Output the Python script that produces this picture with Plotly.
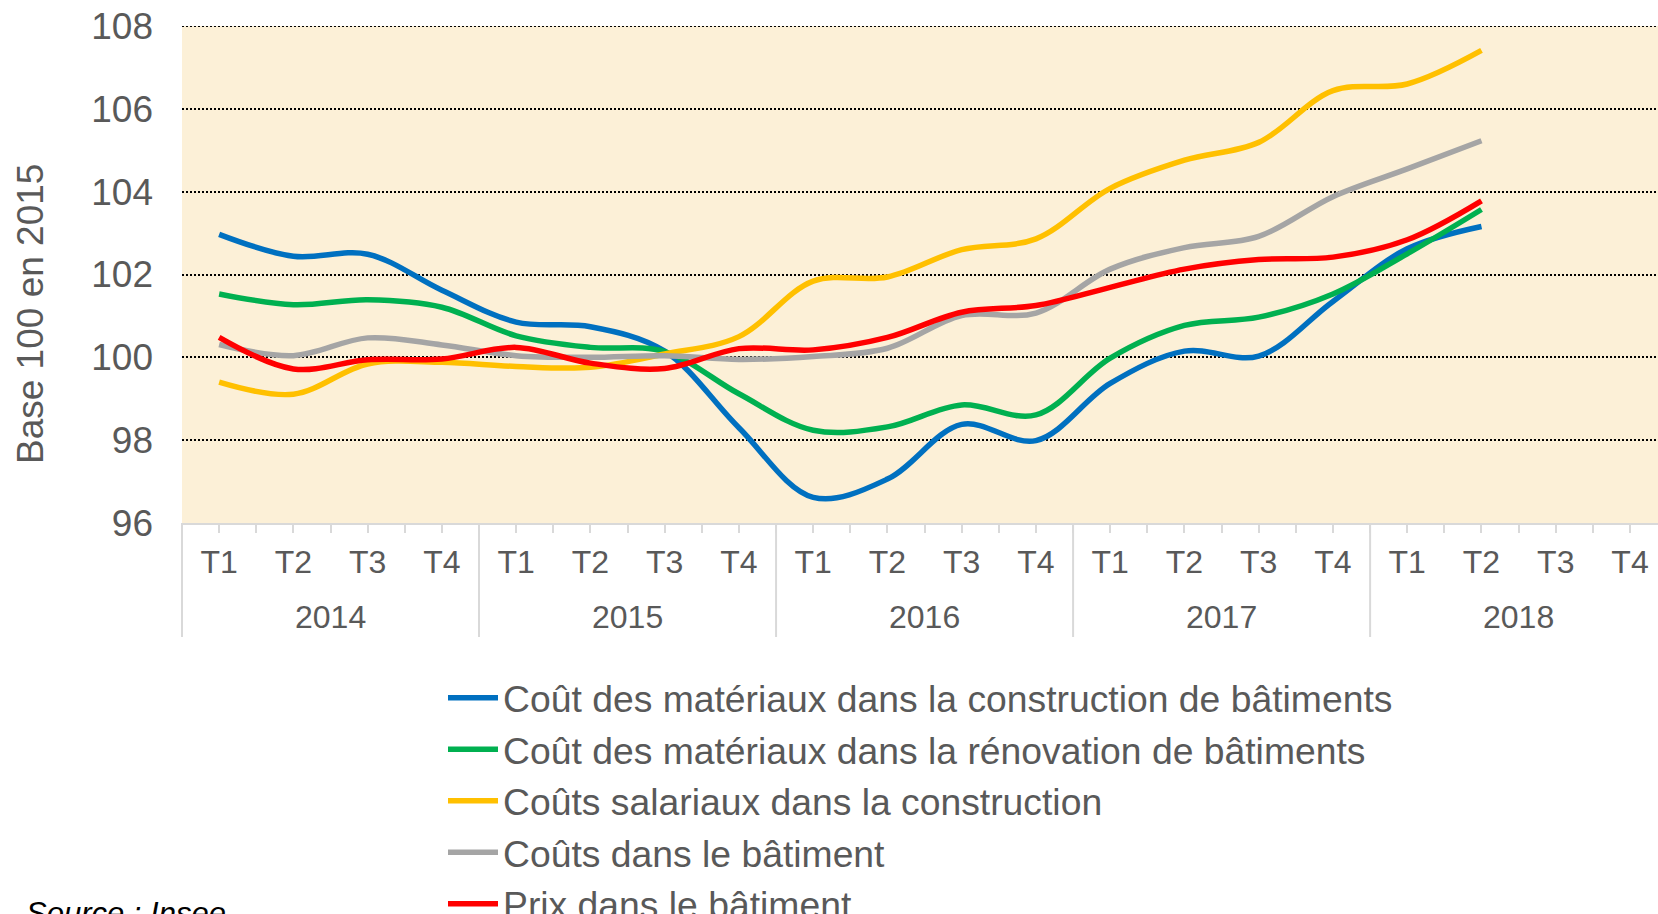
import plotly.graph_objects as go

# ---------------- data ----------------
quarter_labels = ["T1", "T2", "T3", "T4"] * 5
year_labels = ["2014", "2015", "2016", "2017", "2018"]
series_names = [
    "Coût des matériaux dans la construction de bâtiments",
    "Coût des matériaux dans la rénovation de bâtiments",
    "Coûts salariaux dans la construction",
    "Coûts dans le bâtiment",
    "Prix dans le bâtiment",
]
materiaux_construction = [102.97, 102.44, 102.49, 101.62, 100.85, 100.74, 100.15, 98.30, 96.62,
                          97.06, 98.38, 97.99, 99.37, 100.15, 100.03, 101.35, 102.62, 103.16]
materiaux_renovation = [101.53, 101.27, 101.39, 101.21, 100.52, 100.24, 100.14, 99.12, 98.24,
                        98.32, 98.85, 98.61, 99.98, 100.77, 100.97, 101.53, 102.50, 103.57]
couts_salariaux = [99.40, 99.11, 99.84, 99.88, 99.78, 99.76, 100.08, 100.50, 101.84,
                   101.94, 102.60, 102.86, 104.08, 104.76, 105.19, 106.44, 106.60, 107.41]
couts_batiment = [100.31, 100.04, 100.47, 100.30, 100.04, 100.00, 100.04, 99.95, 100.02,
                  100.22, 101.01, 101.07, 102.13, 102.65, 102.92, 103.88, 104.55, 105.23]
prix_batiment = [100.48, 99.72, 99.94, 99.96, 100.24, 99.86, 99.73, 100.21, 100.18,
                 100.48, 101.09, 101.25, 101.69, 102.13, 102.36, 102.42, 102.84, 103.78]
y_ticks = [96, 98, 100, 102, 104, 106, 108]

series_values = [materiaux_construction, materiaux_renovation, couts_salariaux,
                 couts_batiment, prix_batiment]
colors = ["#0070C0", "#00B050", "#FFC000", "#A5A5A5", "#FF0000"]

# ---------------- layout geometry ----------------
W, H = 1658, 914
L, R, T, B = 182, 0, 26, 391
x_min, x_max = -0.5, 19.377
plot_h = H - T - B
plot_w = W - L - R

def px_to_paper_y(py):
    return (H - B - py) / plot_h

def px_to_paper_x(px):
    return (px - L) / plot_w

def data_to_paper_x(xv):
    return (xv - x_min) / (x_max - x_min)

TEXT = "#595959"
FONT = "Arial, Liberation Sans, sans-serif"

fig = go.Figure()
for name, vals, col in zip(series_names, series_values, colors):
    fig.add_trace(go.Scatter(
        x=list(range(len(vals))), y=vals, name=name, mode="lines",
        line=dict(color=col, width=5.5, shape="spline", smoothing=1.0),
    ))

n_q = len(quarter_labels)
boundaries = [i + 0.5 for i in range(n_q - 1)]

shapes = []
for k in range(len(year_labels)):
    xb = 4 * k - 0.5
    shapes.append(dict(type="line", xref="paper", yref="paper",
                       x0=data_to_paper_x(xb), x1=data_to_paper_x(xb),
                       y0=0, y1=px_to_paper_y(637),
                       line=dict(color="#D9D9D9", width=2)))
# top gridline (plotly omits the gridline at the range edge)
shapes.append(dict(type="line", xref="paper", yref="y", x0=0, x1=1,
                   y0=y_ticks[-1], y1=y_ticks[-1], layer="above",
                   line=dict(color="black", width=2, dash="2px,2px")))

annotations = []
for k, yl in enumerate(year_labels):
    annotations.append(dict(text=yl, x=4 * k + 1.5, xref="x", y=px_to_paper_y(617), yref="paper",
                            showarrow=False, yanchor="middle", xanchor="center",
                            font=dict(size=32, color=TEXT, family=FONT)))
annotations.append(dict(text="Base 100 en 2015", textangle=-90,
                        x=px_to_paper_x(30), y=px_to_paper_y(314), xref="paper", yref="paper",
                        showarrow=False, xanchor="center", yanchor="middle",
                        font=dict(size=37, color=TEXT, family=FONT)))
annotations.append(dict(text="<i>Source : Insee</i>",
                        x=px_to_paper_x(24), y=px_to_paper_y(913), xref="paper", yref="paper",
                        showarrow=False, xanchor="left", yanchor="middle",
                        font=dict(size=31, color="black", family=FONT)))

fig.update_layout(
    width=W, height=H,
    margin=dict(l=L, r=R, t=T, b=B, autoexpand=False),
    paper_bgcolor="white",
    plot_bgcolor="#FCF0D7",
    font=dict(family=FONT, color=TEXT),
    showlegend=True,
    legend=dict(x=px_to_paper_x(443), xanchor="left",
                y=px_to_paper_y(667), yanchor="top",
                font=dict(size=37.3, color=TEXT, family=FONT),
                itemwidth=50, bgcolor="rgba(0,0,0,0)", traceorder="normal"),
    shapes=shapes,
    annotations=annotations,
    xaxis=dict(range=[x_min, x_max], tickmode="array", tickvals=list(range(n_q)),
               ticktext=quarter_labels, tickfont=dict(size=32, color=TEXT, family=FONT),
               ticks="outside", ticklen=8, tickcolor="#D9D9D9", tickwidth=1.5,
               showline=True, linecolor="#D9D9D9", linewidth=2, showgrid=False,
               zeroline=False, ticklabelstandoff=2,
               minor=dict(ticks="outside", tickmode="array", tickvals=boundaries,
                          ticklen=8, tickcolor="#D9D9D9", tickwidth=1.5, showgrid=False)),
    yaxis=dict(range=[96, 108], tickmode="array", tickvals=y_ticks,
               tickfont=dict(size=37, color=TEXT, family=FONT),
               showgrid=True, gridcolor="black", gridwidth=2, griddash="2px,2px",
               zeroline=False, showline=False, ticks="", ticklabelstandoff=28),
)

fig.write_html("out.html", config={"displayModeBar": False},
               post_script="document.body.style.margin='0';")
